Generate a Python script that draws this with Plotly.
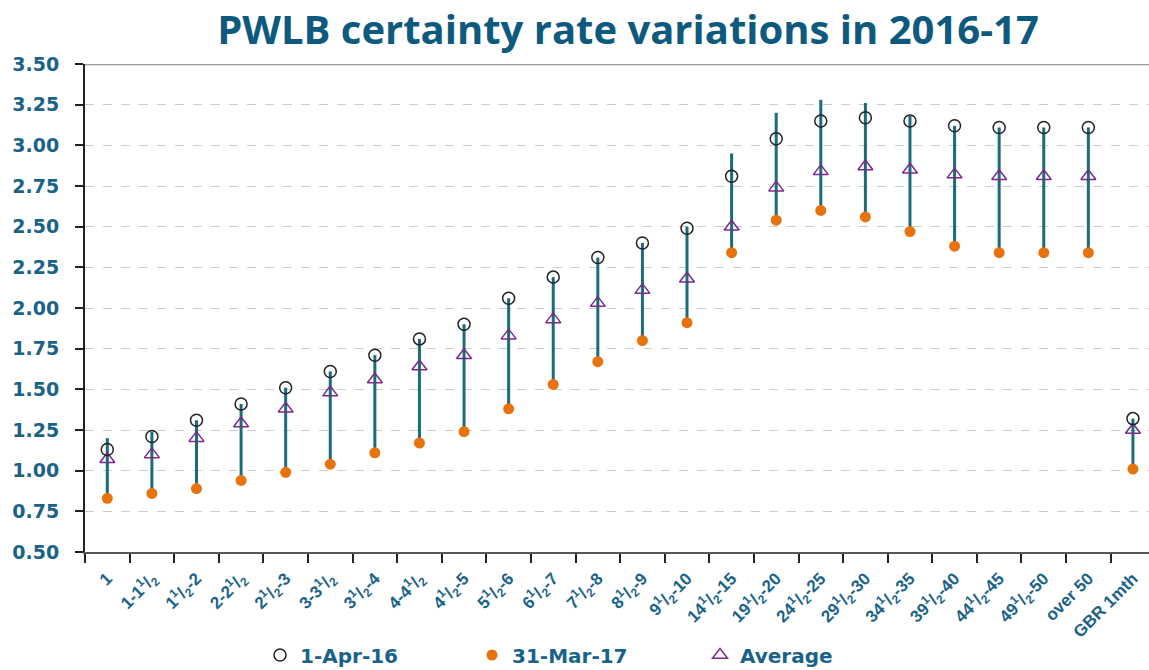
import plotly.graph_objects as go

categories = ["1", "1-1<sup>1</sup>/<sub>2</sub>", "1<sup>1</sup>/<sub>2</sub>-2", "2-2<sup>1</sup>/<sub>2</sub>",
              "2<sup>1</sup>/<sub>2</sub>-3", "3-3<sup>1</sup>/<sub>2</sub>", "3<sup>1</sup>/<sub>2</sub>-4",
              "4-4<sup>1</sup>/<sub>2</sub>", "4<sup>1</sup>/<sub>2</sub>-5", "5<sup>1</sup>/<sub>2</sub>-6",
              "6<sup>1</sup>/<sub>2</sub>-7", "7<sup>1</sup>/<sub>2</sub>-8", "8<sup>1</sup>/<sub>2</sub>-9",
              "9<sup>1</sup>/<sub>2</sub>-10", "14<sup>1</sup>/<sub>2</sub>-15", "19<sup>1</sup>/<sub>2</sub>-20",
              "24<sup>1</sup>/<sub>2</sub>-25", "29<sup>1</sup>/<sub>2</sub>-30", "34<sup>1</sup>/<sub>2</sub>-35",
              "39<sup>1</sup>/<sub>2</sub>-40", "44<sup>1</sup>/<sub>2</sub>-45", "49<sup>1</sup>/<sub>2</sub>-50",
              "over 50", "GBR 1mth"]

apr16 = [1.13, 1.21, 1.31, 1.41, 1.51, 1.61, 1.71, 1.81, 1.90, 2.06, 2.19, 2.31, 2.40, 2.49,
         2.81, 3.04, 3.15, 3.17, 3.15, 3.12, 3.11, 3.11, 3.11, 1.32]
mar17 = [0.83, 0.86, 0.89, 0.94, 0.99, 1.04, 1.11, 1.17, 1.24, 1.38, 1.53, 1.67, 1.80, 1.91,
         2.34, 2.54, 2.60, 2.56, 2.47, 2.38, 2.34, 2.34, 2.34, 1.01]
average = [1.07, 1.10, 1.20, 1.29, 1.38, 1.48, 1.56, 1.64, 1.71, 1.83, 1.93, 2.03, 2.11, 2.18,
           2.50, 2.74, 2.84, 2.87, 2.85, 2.82, 2.81, 2.81, 2.81, 1.25]
year_high = [1.20, 1.24, 1.31, 1.41, 1.51, 1.61, 1.71, 1.81, 1.90, 2.06, 2.19, 2.31, 2.40, 2.50,
             2.95, 3.20, 3.28, 3.26, 3.18, 3.12, 3.11, 3.11, 3.11, 1.32]
year_low = mar17

TEAL = "#1B6B7B"
TEXT = "#1A6388"
W, H = 1149, 670

lx, ly = [], []
for c, h, l in zip(categories, year_high, year_low):
    lx += [c, c, None]
    ly += [h, l, None]

fig = go.Figure()
fig.add_trace(go.Scatter(x=lx, y=ly, mode="lines", line=dict(color=TEAL, width=3),
                         showlegend=False, hoverinfo="skip"))
fig.add_trace(go.Scatter(x=categories, y=mar17, mode="markers", name="31-Mar-17", legend="legend2",
                         marker=dict(symbol="circle", size=11, color="#E8730C")))
fig.add_trace(go.Scatter(x=categories, y=average, mode="markers", name="Average", legend="legend3",
                         marker=dict(symbol="triangle-up-open", size=13, color="#7B2A8C",
                                     line=dict(width=1.5))))
fig.add_trace(go.Scatter(x=categories, y=apr16, mode="markers", name="1-Apr-16", legend="legend",
                         marker=dict(symbol="circle-open", size=12, color="#222222",
                                     line=dict(width=1.5))))


def lg(px_x, px_y=655):
    return dict(orientation="h", xref="container", yref="container",
                x=(px_x - 20) / W, xanchor="left",
                y=1 - px_y / H, yanchor="middle",
                bgcolor="rgba(0,0,0,0)", itemwidth=30,
                font=dict(family="DejaVu Sans", size=20, color=TEXT, weight="bold"))


fig.update_layout(
    width=W, height=H,
    paper_bgcolor="white", plot_bgcolor="white",
    margin=dict(l=85, r=0, t=64, b=118),
    title=dict(text="<b>PWLB certainty rate variations in 2016-17</b>", x=628 / W, xanchor="center",
               xref="container", yref="container", y=1 - 30 / H, yanchor="middle",
               font=dict(family="Open Sans", size=40, color="#0E5A7E")),
    legend=lg(280),
    legend2=lg(492),
    legend3=lg(720),
    showlegend=True,
)

fig.update_xaxes(type="category", categoryorder="array", categoryarray=categories,
                 range=[-0.5, 23.36], tickson="boundaries", ticks="outside", ticklen=9,
                 tickcolor="#222", tickwidth=1.5, automargin=False, ticklabelstandoff=8,
                 showline=True, linecolor="#555", linewidth=2, showgrid=False,
                 tickangle=-45, tickfont=dict(family="Arial", size=17, color=TEXT, weight="bold"))
fig.update_yaxes(range=[0.5, 3.5], dtick=0.25, tick0=0.5, tickformat=".2f",
                 ticks="outside", ticklen=8, tickcolor="#222", tickwidth=1.5, automargin=False,
                 ticklabelstandoff=12,
                 showline=True, linecolor="#222", linewidth=2,
                 showgrid=True, gridcolor="#CCCCCC", griddash="dash", gridwidth=1,
                 zeroline=False,
                 tickfont=dict(family="DejaVu Sans", size=19, color=TEXT, weight="bold"))
fig.add_shape(type="line", xref="paper", yref="y", x0=0, x1=1, y0=3.5, y1=3.5,
              line=dict(color="#999999", width=2.5))

fig.write_html("out.html", config={"displayModeBar": False},
               post_script="document.body.style.margin='0px';")
